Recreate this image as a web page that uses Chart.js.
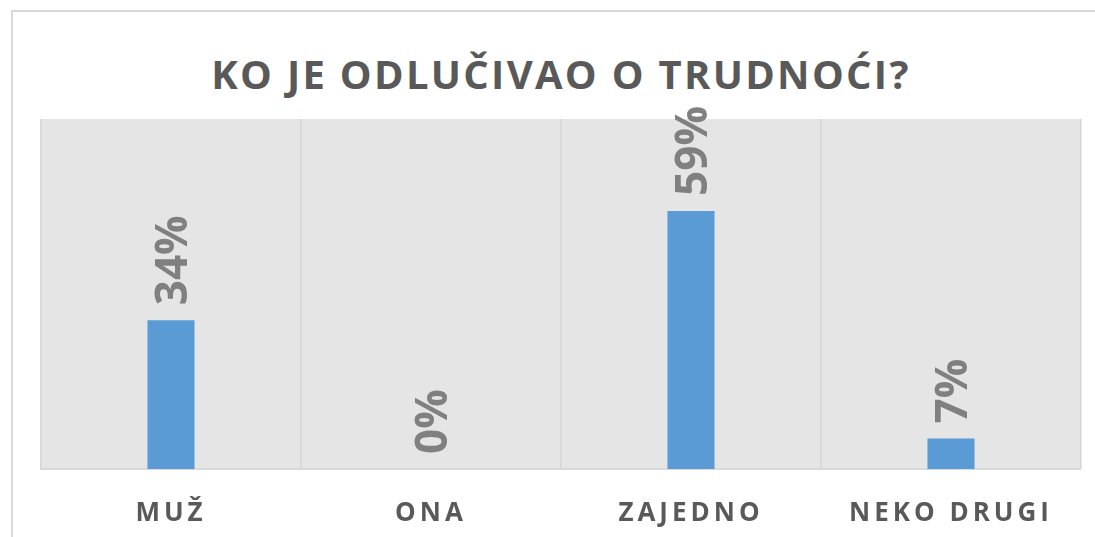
<!DOCTYPE html>
<html>
<head>
<meta charset="utf-8">
<script src="https://cdn.jsdelivr.net/npm/chart.js@4/dist/chart.umd.min.js"></script>
<style>
  html, body { margin: 0; padding: 0; background: #fff; overflow: hidden; }
  #wrap { position: relative; width: 1095px; height: 537px; }
  #frame { position: absolute; left: 11px; top: 10px; width: 1200px; height: 600px; border: 2px solid #d9d9d9; box-sizing: border-box; }
  #title { position: absolute; left: 0; top: 50px; width: 1122px; text-align: center; font: bold 40px "Open Sans", sans-serif; line-height: 48px; letter-spacing: 2.3px; color: #595959; }
  canvas { position: absolute; left: 0; top: 0; }
</style>
</head>
<body>
<div id="wrap">
  <div id="frame"></div>
  <div id="title">KO JE ODLUČIVAO O TRUDNOĆI?</div>
  <canvas id="c" width="1095" height="537"></canvas>
</div>
<script>
const categories = ["MUŽ", "ONA", "ZAJEDNO", "NEKO DRUGI"];
const values = [34, 0, 59, 7];
const yMax = 80;

const plotBg = {
  id: 'plotBg',
  beforeDraw(chart) {
    const { ctx, chartArea: a } = chart;
    ctx.save();
    ctx.fillStyle = '#e5e5e5';
    ctx.fillRect(a.left, a.top, a.right - a.left, a.bottom - a.top);
    ctx.restore();
    ctx.letterSpacing = '4px';
  }
};

const valueLabels = {
  id: 'valueLabels',
  afterDatasetsDraw(chart) {
    const ctx = chart.ctx;
    const meta = chart.getDatasetMeta(0);
    ctx.save();
    ctx.letterSpacing = '0px';
    ctx.font = 'bold 44px "Open Sans", sans-serif';
    ctx.fillStyle = '#808080';
    ctx.textAlign = 'left';
    ctx.textBaseline = 'alphabetic';
    meta.data.forEach((bar, i) => {
      ctx.save();
      ctx.translate(bar.x, bar.y - 15);
      ctx.rotate(-Math.PI / 2);
      ctx.fillText(values[i] + '%', 0, 15.7);
      ctx.restore();
    });
    ctx.restore();
  }
};

new Chart(document.getElementById('c'), {
  type: 'bar',
  data: {
    labels: categories,
    datasets: [{
      data: values,
      backgroundColor: '#5b9bd5',
      borderWidth: 0,
      categoryPercentage: 1,
      barPercentage: 0.181
    }]
  },
  options: {
    responsive: false,
    animation: false,
    layout: { padding: { left: 41, right: 14, top: 119, bottom: 0 } },
    plugins: { legend: { display: false }, tooltip: { enabled: false }, title: { display: false } },
    scales: {
      y: { display: false, min: 0, max: yMax },
      x: {
        afterFit(scale) { scale.height = 68; },
        grid: { display: true, offset: true, color: '#d6d6d6', lineWidth: 1.5, drawTicks: false },
        border: { display: true, color: '#d9d9d9', width: 2 },
        ticks: {
          padding: 29,
          color: '#595959',
          font: { family: '"Open Sans", sans-serif', size: 26, weight: 'bold' },
          maxRotation: 0,
          autoSkip: false
        }
      }
    }
  },
  plugins: [plotBg, valueLabels]
});
</script>
</body>
</html>
